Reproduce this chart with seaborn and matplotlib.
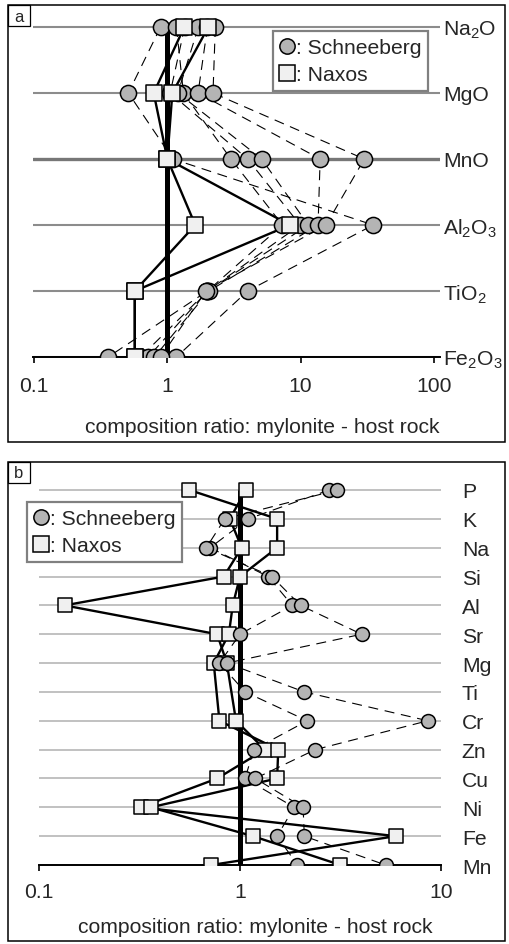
import numpy as np
import pandas as pd
import matplotlib
matplotlib.use("Agg")
import matplotlib.pyplot as plt
import seaborn as sns
from matplotlib.lines import Line2D
from matplotlib.patches import Rectangle
from matplotlib.ticker import NullLocator

# ---- data (composition ratio mylonite / host rock) ----
oxides = ["Na$_2$O", "MgO", "MnO", "Al$_2$O$_3$", "TiO$_2$", "Fe$_2$O$_3$"]
schneeberg_a = [
    [0.89, 0.51, 1.10, 35.0, 4.0, 1.17],
    [1.17, 1.32, 3.0, 7.3, 2.0, 0.36],
    [1.35, 1.05, 4.0, 9.9, 2.0, 0.63],
    [1.71, 1.20, 5.1, 11.4, 2.0, 0.72],
    [2.00, 1.70, 14.0, 13.5, 2.05, 0.80],
    [2.29, 2.20, 30.0, 15.5, 1.95, 0.89],
]
naxos_a = [
    [2.03, 1.09, 1.0, 8.3, 0.57, 0.57],
    [1.34, 0.79, 1.0, 1.62, 0.57, 0.57],
]

elements = ["P", "K", "Na", "Si", "Al", "Sr", "Mg", "Ti", "Cr", "Zn", "Cu", "Ni", "Fe", "Mn"]
schneeberg_b = [
    [2.78, 1.10, 0.71, 1.38, 1.82, 1.00, 0.79, 1.06, 2.16, 1.17, 1.06, 1.86, 1.53, 1.93],
    [3.05, 0.84, 0.68, 1.44, 2.00, 4.03, 0.86, 2.09, 8.6, 2.37, 1.19, 2.06, 2.09, 5.3],
]
naxos_b = [
    [1.07, 0.89, 1.02, 0.83, 0.134, 0.77, 0.86, np.nan, 0.955, 1.33, 0.77, 0.32, 5.96, 0.72],
    [0.56, 1.53, 1.53, 1.00, 0.92, 0.88, 0.74, np.nan, 0.79, 1.55, 1.53, 0.36, 1.16, 3.16],
]

xticks_a = [0.1, 1, 10, 100]
xticks_b = [0.1, 1, 10]
xlabel = "composition ratio: mylonite - host rock"

CIRC = "#b4b4b4"
SQ = "#f0f0f0"

sns.set_style("white")
plt.rcParams["font.family"] = ["Liberation Sans", "DejaVu Sans"]
plt.rcParams["mathtext.fontset"] = "custom"
plt.rcParams["mathtext.rm"] = "Liberation Sans"
plt.rcParams["mathtext.it"] = "Liberation Sans:italic"
FS = 15.2

W, H = 509, 945


def to_long(samples, site):
    recs = []
    for k, vals in enumerate(samples):
        for i, v in enumerate(vals):
            recs.append({"site": site, "sample": f"{site}{k}", "pos": i, "ratio": v})
    return pd.DataFrame(recs).dropna()


def fig_rect(x0, y0, x1, y1):
    return [x0 / W, 1 - y1 / H, (x1 - x0) / W, (y1 - y0) / H]


def draw_panel(ax, rows, sch, nax, xlim, xticks, top_extra, grid_c, grid_lw,
               s_circ, s_sq, squares_on_top, tick_pad, label_pad):
    n = len(rows)
    d_s = to_long(sch, "Schneeberg")
    d_n = to_long(nax, "Naxos")
    ax.set_xscale("log")
    ax.set_xlim(*xlim)
    ax.set_ylim(n - 1, -top_extra)

    ax.grid(axis="y", color=grid_c, lw=grid_lw, zorder=0)
    ax.grid(axis="x", visible=False)
    ax.set_axisbelow(True)

    frac_top = (n - 1) / (n - 1 + top_extra)
    ax.axvline(1, ymin=0, ymax=frac_top, color="black", lw=3.6, zorder=2,
               solid_capstyle="butt")

    sns.lineplot(data=d_s, x="ratio", y="pos", units="sample", estimator=None,
                 sort=False, orient="y", color="black", lw=0.8,
                 linestyle=(0, (9, 6)), ax=ax, legend=False, zorder=3)
    sns.lineplot(data=d_n, x="ratio", y="pos", units="sample", estimator=None,
                 sort=False, orient="y", color="black", lw=1.7,
                 ax=ax, legend=False, zorder=3)

    z_c, z_s = (4, 5) if squares_on_top else (5, 4)
    sns.scatterplot(data=d_s, x="ratio", y="pos", marker="o", s=s_circ,
                    color=CIRC, edgecolor="black", linewidth=1.1,
                    ax=ax, legend=False, zorder=z_c)
    sns.scatterplot(data=d_n, x="ratio", y="pos", marker="s", s=s_sq,
                    color=SQ, edgecolor="black", linewidth=1.1,
                    ax=ax, legend=False, zorder=z_s)

    ax.set_xticks(xticks)
    ax.set_xticklabels([f"{t:g}" for t in xticks])
    ax.xaxis.set_minor_locator(NullLocator())
    ax.yaxis.tick_right()
    ax.set_yticks(range(n))
    ax.set_yticklabels(rows)
    ax.tick_params(axis="y", length=0, pad=label_pad, labelsize=FS)
    ax.tick_params(axis="x", direction="out", length=4.5, width=1.4,
                   pad=tick_pad, labelsize=FS, bottom=True)
    for side in ["top", "left", "right"]:
        ax.spines[side].set_visible(False)
    ax.spines["bottom"].set_linewidth(1.4)
    ax.spines["bottom"].set_color("black")
    ax.set_ylabel("")
    ax.set_xlabel(xlabel, fontsize=FS)


def add_legend(ax, x0, y0, ms):
    handles = [
        Line2D([], [], marker="o", ls="", mfc=CIRC, mec="black", mew=1.1, ms=ms),
        Line2D([], [], marker="s", ls="", mfc=SQ, mec="black", mew=1.1, ms=ms),
    ]
    leg = ax.legend(handles, [": Schneeberg", ": Naxos"], loc="upper left",
                    bbox_to_anchor=(x0 / W, 1 - y0 / H),
                    bbox_transform=ax.figure.transFigure, borderaxespad=0,
                    frameon=True, fancybox=False, edgecolor="#808080",
                    framealpha=1, fontsize=FS, handlelength=0.7,
                    handletextpad=0.05, borderpad=0.33, labelspacing=0.38)
    leg.get_frame().set_linewidth(1.6)
    leg.set_zorder(10)


def add_frame(fig, x0, y0, x1, y1, tag):
    fig.add_artist(Rectangle((x0 / W, 1 - y1 / H), (x1 - x0) / W, (y1 - y0) / H,
                             transform=fig.transFigure, fill=False,
                             ec="black", lw=1.1))
    fig.add_artist(Rectangle((x0 / W, 1 - (y0 + 21) / H), 22 / W, 21 / H,
                             transform=fig.transFigure, fill=False,
                             ec="black", lw=0.9))
    fig.text((x0 + 11) / W, 1 - (y0 + 11) / H, tag, ha="center", va="center",
             fontsize=12)


fig = plt.figure(figsize=(W / 100, H / 100), dpi=100)

# panel a
ax_a = fig.add_axes(fig_rect(33, 10, 440, 358))
draw_panel(ax_a, oxides, schneeberg_a, naxos_a,
           (10 ** (-1 - 1 / 133.5), 10 ** (2 + 6 / 133.5)), xticks_a,
           18 / 66, "#8c8c8c", 1.5, 135, 140, True, 9, 2)
ax_a.get_ygridlines()[2].set_linewidth(2.4)
ax_a.get_ygridlines()[2].set_color("#777777")
ax_a.xaxis.set_label_coords((262 - 33) / 407, -(433 - 358) / 348)
ax_a.xaxis.label.set_verticalalignment("baseline")
add_legend(ax_a, 273, 32, 11)
add_frame(fig, 8, 6, 505, 443, "a")

# panel b
ax_b = fig.add_axes(fig_rect(39, 475, 441, 866))
draw_panel(ax_b, elements, schneeberg_b, naxos_b, (0.1, 10), xticks_b,
           16 / 28.85, "#b0b0b0", 1.1, 100, 105, False, 7.5, 15)
ax_b.xaxis.set_label_coords((255 - 39) / 402, -(933 - 866) / 391)
ax_b.xaxis.label.set_verticalalignment("baseline")
add_legend(ax_b, 27, 503, 11)
add_frame(fig, 8, 463, 505, 942, "b")

fig.savefig("out.png", dpi=100)
